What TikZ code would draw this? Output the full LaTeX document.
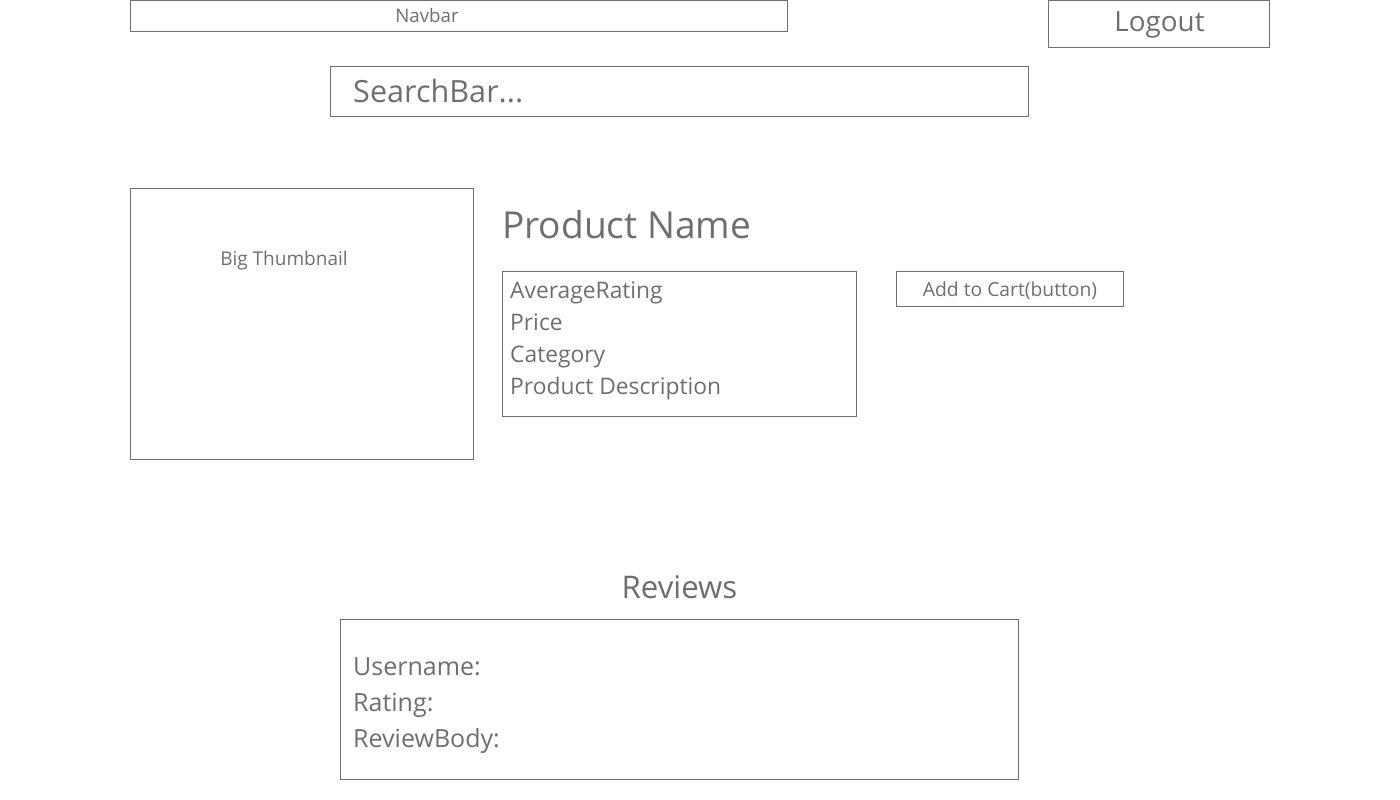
\documentclass[tikz,border=0pt]{standalone}
\usepackage{fontspec}
\setmainfont{Open Sans}
\definecolor{wire}{HTML}{707070}
\definecolor{wtext}{HTML}{6E6E6E}
\begin{document}
\begin{tikzpicture}[x=1pt,y=-1pt,
  box/.style={draw=wire,line width=1pt,inner sep=0pt,outer sep=0pt,anchor=north west},
  txt/.style={text=wtext,inner sep=0pt,anchor=base},
  ltxt/.style={text=wtext,inner sep=0pt,anchor=base west},
  fs/.style={font=\fontsize{#1}{#1}\selectfont}]
\useasboundingbox (0,0) rectangle (1400,800);
% boxes
\node[box,minimum width=657pt,minimum height=31pt] (navbar) at (130.5,0.5) {};
\node[box,minimum width=221pt,minimum height=47pt] (logout) at (1048.5,0.5) {};
\node[box,minimum width=698pt,minimum height=50pt] (search) at (330.5,66.5) {};
\node[box,minimum width=343pt,minimum height=271pt] (thumb) at (130.5,188.5) {};
\node[box,minimum width=354pt,minimum height=145pt] (info) at (502.5,271.5) {};
\node[box,minimum width=227pt,minimum height=35pt] (cart) at (896.5,271.5) {};
\node[box,minimum width=678pt,minimum height=160pt] (reviews) at (340.5,619.5) {};
% texts
\node[txt,fs=18.7] (tnav) at (427,22.5) {Navbar};
\node[txt,fs=27.8] (tlogout) at (1159.5,31.5) {Logout};
\node[ltxt,fs=30.6] (tsearch) at (353,102) {SearchBar...};
\node[txt,fs=19] (tthumb) at (284,265) {Big Thumbnail};
\node[ltxt,fs=37.1] (tname) at (502,238.5) {Product Name};
\node[ltxt,fs=22.8] (tavg) at (510,298) {AverageRating};
\node[ltxt,fs=22.8] (tprice) at (510,330) {Price};
\node[ltxt,fs=22.8] (tcat) at (510,362) {Category};
\node[ltxt,fs=22.8] (tdesc) at (510,394) {Product Description};
\node[txt,fs=19.3] (tcart) at (1010,296) {Add to Cart(button)};
\node[txt,fs=31.2] (trev) at (679.5,598) {Reviews};
\node[ltxt,fs=25] (tuser) at (353,675) {Username:};
\node[ltxt,fs=25] (trat) at (353,711) {Rating:};
\node[ltxt,fs=25] (tbody) at (353,747) {ReviewBody:};
\end{tikzpicture}
\end{document}
